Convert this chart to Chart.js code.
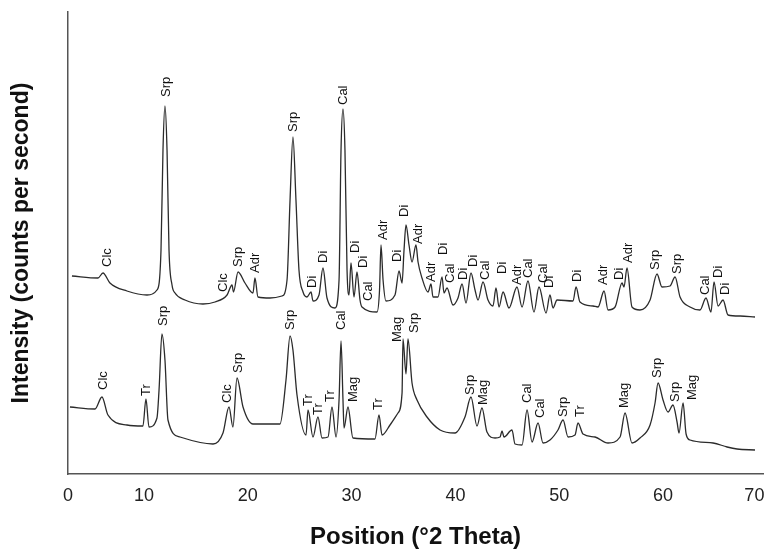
<!DOCTYPE html>
<html>
<head>
<meta charset="utf-8">
<title>XRD patterns</title>
<script src="https://cdn.jsdelivr.net/npm/chart.js@4.4.1/dist/chart.umd.min.js"></script>
<style>
  body { margin: 0; background: #fff; }
  canvas { display: block; }
</style>
</head>
<body>
<canvas id="xrd" width="767" height="549"></canvas>
<script>
// Upper pattern (position in deg 2 theta, intensity in arbitrary counts)
const upperPos = [3.06, 5.57, 6.05, 6.72, 8.36, 10.29, 11.25, 11.64, 11.83, 12.02, 12.22, 12.41, 12.70, 12.99, 13.95, 15.68, 16.84, 18.00, 18.48, 18.62, 19.06, 19.73, 20.50, 20.69, 20.98, 22.14, 23.29, 23.78, 24.07, 24.35, 24.64, 24.93, 25.32, 25.70, 26.09, 26.28, 26.86, 27.24, 27.63, 28.40, 28.79, 28.98, 29.17, 29.36, 29.56, 29.75, 29.94, 30.23, 30.52, 30.81, 31.00, 32.45, 32.69, 32.83, 33.03, 33.31, 34.18, 34.57, 34.86, 35.05, 35.24, 35.53, 35.82, 36.20, 36.40, 36.78, 37.36, 37.65, 37.84, 38.32, 38.71, 38.90, 39.19, 39.77, 40.25, 40.64, 41.02, 41.50, 41.89, 42.18, 42.66, 43.14, 43.62, 43.91, 44.20, 44.59, 45.16, 45.93, 46.42, 46.99, 47.57, 48.05, 48.73, 49.11, 49.40, 49.79, 51.33, 51.62, 52.00, 53.26, 53.74, 54.32, 54.70, 55.38, 56.05, 56.24, 56.53, 57.01, 57.78, 58.75, 59.42, 59.90, 60.67, 61.16, 61.64, 62.60, 63.56, 64.14, 64.62, 64.91, 65.30, 65.78, 66.26, 67.42, 68.86];
const upperInt = [198, 196, 201, 191, 183, 179, 184, 224, 324, 368, 324, 224, 189, 181, 174, 170, 172, 179, 189, 182, 202, 191, 181, 196, 177, 176, 178, 194, 274, 337, 274, 204, 182, 177, 182, 173, 179, 206, 176, 166, 194, 324, 365, 324, 204, 179, 211, 177, 202, 174, 167, 162, 184, 229, 194, 173, 179, 203, 191, 224, 249, 229, 212, 229, 212, 196, 182, 190, 177, 177, 197, 181, 186, 169, 176, 190, 171, 201, 184, 174, 192, 174, 168, 186, 167, 182, 166, 187, 167, 193, 162, 187, 161, 179, 166, 174, 173, 187, 172, 168, 167, 183, 164, 167, 191, 187, 206, 167, 164, 174, 200, 187, 188, 197, 177, 167, 164, 176, 162, 192, 168, 174, 159, 158, 157];

// Lower pattern
const lowerPos = [2.87, 5.28, 5.95, 6.53, 8.36, 9.90, 10.19, 10.48, 11.25, 11.45, 11.73, 12.02, 12.31, 13.47, 16.65, 17.61, 18.19, 18.57, 18.96, 19.54, 20.50, 23.10, 23.68, 24.07, 24.35, 24.74, 25.61, 25.80, 26.28, 26.76, 27.15, 27.73, 28.11, 28.50, 28.79, 28.98, 29.17, 29.27, 29.65, 30.13, 32.25, 32.64, 32.93, 33.70, 34.47, 34.86, 34.95, 35.24, 35.43, 35.82, 36.30, 37.26, 38.52, 39.96, 40.92, 41.50, 42.08, 42.56, 43.04, 43.82, 44.30, 44.49, 44.68, 45.45, 45.74, 46.42, 46.90, 47.38, 47.96, 48.44, 49.11, 49.88, 50.37, 50.85, 51.52, 51.81, 52.29, 53.45, 54.70, 55.86, 56.34, 57.01, 57.78, 58.75, 59.23, 59.52, 60.00, 60.48, 60.96, 61.35, 61.54, 61.93, 62.22, 62.60, 64.82, 66.17, 67.13, 68.86];
const lowerInt = [67, 65, 77, 59, 49, 48, 75, 47, 56, 84, 140, 114, 54, 37, 30, 41, 67, 47, 96, 67, 50, 50, 94, 138, 124, 79, 39, 64, 37, 57, 36, 37, 67, 37, 74, 133, 74, 46, 67, 36, 35, 59, 39, 49, 61, 81, 135, 100, 135, 91, 74, 57, 44, 41, 57, 77, 48, 66, 42, 36, 37, 43, 37, 44, 30, 29, 64, 32, 51, 31, 34, 44, 54, 37, 39, 51, 40, 37, 31, 37, 61, 31, 36, 49, 71, 91, 74, 62, 69, 52, 41, 71, 40, 34, 31, 27, 25, 24];

// Phase labels over the peaks (x, foot of the label, text)
const upperLabelPos = [6.44, 12.12, 17.61, 19.06, 20.69, 24.35, 26.18, 27.24, 29.17, 30.33, 31.10, 31.58, 33.03, 34.37, 35.05, 36.40, 37.65, 38.81, 39.48, 40.73, 41.70, 42.85, 44.49, 45.93, 46.99, 48.44, 49.02, 51.71, 54.22, 55.76, 56.63, 59.23, 61.35, 64.05, 65.30, 65.97];
const upperLabelInt = [207, 377, 182, 207, 201, 342, 186, 211, 369, 221, 206, 173, 234, 212, 257, 230, 192, 219, 191, 194, 207, 194, 200, 189, 196, 191, 186, 192, 189, 194, 211, 204, 200, 179, 196, 179];
const upperLabels = ['Clc', 'Srp', 'Clc', 'Srp', 'Adr', 'Srp', 'Di', 'Di', 'Cal', 'Di', 'Di', 'Cal', 'Adr', 'Di', 'Di', 'Adr', 'Adr', 'Di', 'Cal', 'Di', 'Di', 'Cal', 'Di', 'Adr', 'Cal', 'Cal', 'Di', 'Di', 'Adr', 'Di', 'Adr', 'Srp', 'Srp', 'Cal', 'Di', 'Di'];

const lowerLabelPos = [6.05, 10.19, 11.83, 18.00, 19.06, 24.07, 25.80, 26.76, 27.92, 28.98, 30.13, 32.54, 34.37, 36.01, 41.41, 42.66, 46.90, 48.15, 50.37, 52.00, 56.24, 59.42, 61.16, 62.79];
const lowerLabelInt = [84, 78, 148, 71, 101, 144, 68, 59, 72, 144, 72, 64, 132, 141, 79, 69, 71, 56, 57, 57, 66, 96, 72, 74];
const lowerLabels = ['Clc', 'Tr', 'Srp', 'Clc', 'Srp', 'Srp', 'Tr', 'Tr', 'Tr', 'Cal', 'Mag', 'Tr', 'Mag', 'Srp', 'Srp', 'Mag', 'Cal', 'Cal', 'Srp', 'Tr', 'Mag', 'Srp', 'Srp', 'Mag'];

// x axis: the printed axis runs from about 2.7 to 69.6 deg, ends labelled 0 and 70
const xMin = 2.68;
const xMax = 69.63;
const tickPos = [2.68, 10, 20, 30, 40, 50, 60, 68.8];
const tickText = ['0', '10', '20', '30', '40', '50', '60', '70'];

const FONT = "'Liberation Sans', Arial, sans-serif";
const INK = '#2b2b2b';

const toPoints = (xs, ys) => xs.map((x, i) => ({ x, y: ys[i] }));

// Draws the rotated phase names above the peaks
const peakLabels = {
  id: 'peakLabels',
  afterDatasetsDraw(chart) {
    const { ctx, scales } = chart;
    const sets = [
      [upperLabelPos, upperLabelInt, upperLabels],
      [lowerLabelPos, lowerLabelInt, lowerLabels],
    ];
    ctx.save();
    ctx.fillStyle = '#111';
    ctx.font = `13px ${FONT}`;
    ctx.textAlign = 'left';
    ctx.textBaseline = 'middle';
    sets.forEach(([xs, ys, names]) => {
      names.forEach((name, i) => {
        const px = scales.x.getPixelForValue(xs[i]);
        const py = scales.y.getPixelForValue(ys[i]);
        ctx.save();
        ctx.translate(px, py);
        ctx.rotate(-Math.PI / 2);
        ctx.fillText(name, 0, 0);
        ctx.restore();
      });
    });
    ctx.restore();
  },
};

const lineStyle = {
  borderColor: INK,
  borderWidth: 1.3,
  pointRadius: 0,
  fill: false,
  cubicInterpolationMode: 'monotone',
};

new Chart(document.getElementById('xrd'), {
  type: 'line',
  data: {
    datasets: [
      { label: 'Upper', data: toPoints(upperPos, upperInt), ...lineStyle },
      { label: 'Lower', data: toPoints(lowerPos, lowerInt), ...lineStyle },
    ],
  },
  options: {
    responsive: false,
    animation: false,
    layout: { padding: { top: 12, right: 4, left: 0, bottom: 0 } },
    plugins: {
      legend: { display: false },
      tooltip: { enabled: false },
    },
    scales: {
      x: {
        type: 'linear',
        min: xMin,
        max: xMax,
        grid: { display: false, drawTicks: false },
        border: { display: true, color: '#555', width: 1.5 },
        afterBuildTicks: (scale) => {
          scale.ticks = tickPos.map((value) => ({ value }));
        },
        afterFit: (scale) => {
          scale.height = 75;
          scale.paddingLeft = 0;
          scale.paddingRight = 0;
        },
        ticks: {
          autoSkip: false,
          maxRotation: 0,
          padding: 11,
          color: '#222',
          font: { family: FONT, size: 18 },
          callback: (value, index) => tickText[index],
        },
        title: {
          display: true,
          text: 'Position (°2 Theta)',
          color: '#111',
          font: { family: FONT, size: 24, weight: 'bold', lineHeight: 1 },
          padding: { top: 0, bottom: 0 },
        },
      },
      y: {
        min: 0,
        max: 462,
        grid: { display: false, drawTicks: false },
        border: { display: true, color: '#555', width: 1.5 },
        ticks: { display: false },
        afterFit: (scale) => {
          scale.width = 68;
        },
        title: {
          display: true,
          text: 'Intensity (counts per second)',
          color: '#111',
          font: { family: FONT, size: 23, weight: 'bold', lineHeight: 1 },
          padding: { top: 10, bottom: 0 },
        },
      },
    },
  },
  plugins: [peakLabels],
});
</script>
</body>
</html>
